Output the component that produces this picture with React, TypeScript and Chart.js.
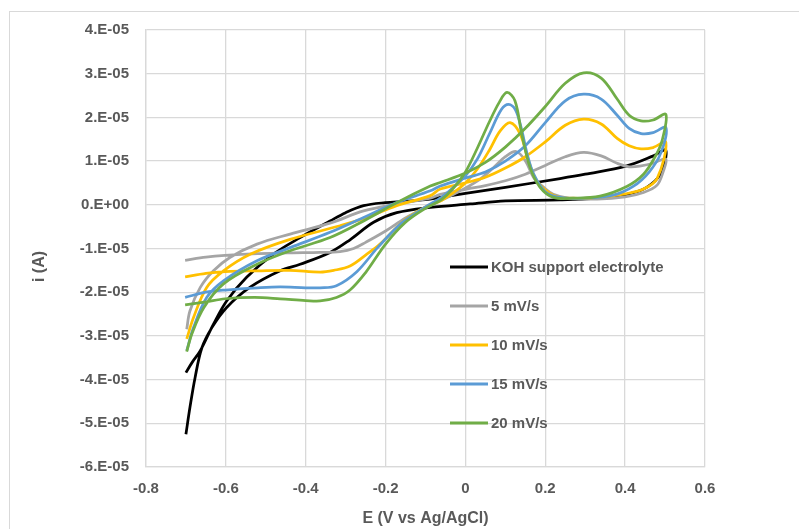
import React, { useEffect, useRef } from "react";
import { Chart, registerables } from "chart.js";

Chart.register(...registerables);

// ---- data (potential E in V vs Ag/AgCl, current i in A) ----
const kohE = [-0.700, -0.690, -0.677, -0.660, -0.635, -0.598, -0.540, -0.464, -0.414, -0.339, -0.289, -0.230, -0.172, -0.088, 0.012, 0.100, 0.237, 0.330, 0.404, 0.454, 0.488, 0.502,
  0.471, 0.404, 0.300, 0.237, 0.100, 0.000, -0.063, -0.100, -0.150, -0.201, -0.255, -0.300, -0.339, -0.414, -0.481, -0.548, -0.598, -0.631, -0.664, -0.684, -0.700];
const kohI = [-5.25e-5, -4.64e-5, -3.95e-5, -3.27e-5, -2.81e-5, -2.35e-5, -1.89e-5, -1.51e-5, -1.36e-5, -1.09e-5, -0.80e-5, -0.40e-5, -0.18e-5, -0.06e-5, 0.02e-5, 0.09e-5, 0.11e-5, 0.15e-5, 0.24e-5, 0.40e-5, 0.70e-5, 1.25e-5,
  1.12e-5, 0.89e-5, 0.70e-5, 0.60e-5, 0.40e-5, 0.26e-5, 0.17e-5, 0.12e-5, 0.08e-5, 0.05e-5, -0.02e-5, -0.18e-5, -0.37e-5, -0.75e-5, -1.13e-5, -1.66e-5, -2.20e-5, -2.73e-5, -3.34e-5, -3.60e-5, -3.84e-5];

const s5E = [-0.702, -0.650, -0.602, -0.520, -0.440, -0.364, -0.314, -0.280, -0.250, -0.200, -0.150, -0.100, -0.063, -0.013, 0.037, 0.070, 0.100, 0.127, 0.150, 0.171, 0.196, 0.220, 0.260, 0.330, 0.400, 0.446, 0.480, 0.495, 0.502,
  0.470, 0.440, 0.410, 0.380, 0.340, 0.296, 0.250, 0.200, 0.150, 0.100, 0.050, 0.003, -0.063, -0.088, -0.172, -0.255, -0.339, -0.439, -0.522, -0.589, -0.631, -0.664, -0.690, -0.698];
const s5I = [-1.27e-5, -1.20e-5, -1.16e-5, -1.12e-5, -1.10e-5, -1.09e-5, -1.07e-5, -1.00e-5, -0.86e-5, -0.60e-5, -0.30e-5, -0.06e-5, 0.09e-5, 0.32e-5, 0.59e-5, 0.85e-5, 1.10e-5, 1.22e-5, 1.01e-5, 0.62e-5, 0.40e-5, 0.24e-5, 0.15e-5, 0.13e-5, 0.18e-5, 0.28e-5, 0.45e-5, 0.75e-5, 1.05e-5,
  0.95e-5, 0.89e-5, 0.87e-5, 0.95e-5, 1.12e-5, 1.20e-5, 1.10e-5, 0.90e-5, 0.70e-5, 0.55e-5, 0.44e-5, 0.36e-5, 0.24e-5, 0.15e-5, 0.02e-5, -0.14e-5, -0.42e-5, -0.67e-5, -0.90e-5, -1.20e-5, -1.51e-5, -1.89e-5, -2.43e-5, -2.85e-5];

const s10E = [-0.702, -0.650, -0.602, -0.520, -0.440, -0.364, -0.330, -0.289, -0.250, -0.214, -0.155, -0.100, -0.060, -0.030, 0.000, 0.030, 0.060, 0.087, 0.112, 0.137, 0.158, 0.179, 0.220, 0.270, 0.330, 0.400, 0.446, 0.480, 0.502,
  0.470, 0.440, 0.410, 0.380, 0.340, 0.296, 0.250, 0.200, 0.150, 0.100, 0.050, 0.003, -0.063, -0.088, -0.172, -0.250, -0.314, -0.439, -0.539, -0.606, -0.648, -0.681, -0.698];
const s10I = [-1.65e-5, -1.57e-5, -1.53e-5, -1.51e-5, -1.50e-5, -1.54e-5, -1.50e-5, -1.40e-5, -1.15e-5, -0.90e-5, -0.37e-5, -0.05e-5, 0.10e-5, 0.28e-5, 0.50e-5, 0.82e-5, 1.25e-5, 1.69e-5, 1.88e-5, 1.62e-5, 1.01e-5, 0.55e-5, 0.22e-5, 0.15e-5, 0.17e-5, 0.25e-5, 0.36e-5, 0.60e-5, 1.43e-5,
  1.31e-5, 1.28e-5, 1.35e-5, 1.52e-5, 1.85e-5, 1.96e-5, 1.82e-5, 1.44e-5, 1.10e-5, 0.84e-5, 0.63e-5, 0.51e-5, 0.36e-5, 0.21e-5, -0.02e-5, -0.30e-5, -0.48e-5, -0.79e-5, -1.13e-5, -1.51e-5, -1.89e-5, -2.58e-5, -3.07e-5];

const s15E = [-0.702, -0.650, -0.602, -0.520, -0.464, -0.400, -0.364, -0.323, -0.272, -0.220, -0.160, -0.100, -0.060, -0.030, 0.000, 0.030, 0.060, 0.090, 0.108, 0.125, 0.140, 0.155, 0.171, 0.200, 0.237, 0.300, 0.370, 0.420, 0.460, 0.490, 0.502,
  0.470, 0.440, 0.410, 0.380, 0.340, 0.296, 0.250, 0.200, 0.150, 0.100, 0.050, 0.003, -0.063, -0.088, -0.172, -0.255, -0.339, -0.439, -0.522, -0.606, -0.648, -0.681, -0.698];
const s15I = [-2.12e-5, -2.00e-5, -1.95e-5, -1.90e-5, -1.88e-5, -1.90e-5, -1.90e-5, -1.85e-5, -1.53e-5, -0.98e-5, -0.42e-5, -0.05e-5, 0.17e-5, 0.40e-5, 0.66e-5, 1.05e-5, 1.62e-5, 2.18e-5, 2.30e-5, 2.18e-5, 1.75e-5, 1.15e-5, 0.70e-5, 0.30e-5, 0.17e-5, 0.15e-5, 0.22e-5, 0.42e-5, 0.75e-5, 1.20e-5, 1.77e-5,
  1.65e-5, 1.63e-5, 1.75e-5, 2.05e-5, 2.42e-5, 2.53e-5, 2.38e-5, 1.88e-5, 1.35e-5, 1.00e-5, 0.75e-5, 0.62e-5, 0.43e-5, 0.32e-5, 0.05e-5, -0.29e-5, -0.63e-5, -0.98e-5, -1.28e-5, -1.74e-5, -2.12e-5, -2.81e-5, -3.34e-5];

const s20E = [-0.702, -0.650, -0.602, -0.528, -0.464, -0.400, -0.364, -0.323, -0.289, -0.250, -0.200, -0.150, -0.100, -0.060, -0.030, 0.000, 0.030, 0.060, 0.085, 0.104, 0.124, 0.141, 0.162, 0.187, 0.220, 0.270, 0.337, 0.404, 0.446, 0.475, 0.492, 0.502,
  0.470, 0.440, 0.410, 0.380, 0.340, 0.296, 0.250, 0.200, 0.150, 0.100, 0.050, 0.003, -0.063, -0.088, -0.172, -0.255, -0.339, -0.439, -0.522, -0.606, -0.655, -0.685, -0.698];
const s20I = [-2.29e-5, -2.22e-5, -2.15e-5, -2.12e-5, -2.15e-5, -2.19e-5, -2.20e-5, -2.12e-5, -1.95e-5, -1.55e-5, -0.90e-5, -0.40e-5, -0.08e-5, 0.12e-5, 0.38e-5, 0.75e-5, 1.30e-5, 1.90e-5, 2.35e-5, 2.57e-5, 2.38e-5, 1.62e-5, 0.85e-5, 0.40e-5, 0.17e-5, 0.15e-5, 0.20e-5, 0.42e-5, 0.70e-5, 1.10e-5, 1.45e-5, 2.07e-5,
  1.94e-5, 1.92e-5, 2.05e-5, 2.42e-5, 2.90e-5, 3.02e-5, 2.78e-5, 2.25e-5, 1.75e-5, 1.32e-5, 0.97e-5, 0.74e-5, 0.51e-5, 0.43e-5, 0.05e-5, -0.37e-5, -0.75e-5, -1.05e-5, -1.36e-5, -1.81e-5, -2.35e-5, -2.95e-5, -3.36e-5];

const seriesNames = ["KOH support electrolyte", "5 mV/s", "10 mV/s", "15 mV/s", "20 mV/s"];
const seriesColors = ["#000000", "#a5a5a5", "#ffc000", "#5b9bd5", "#70ad47"];
const seriesE = [kohE, s5E, s10E, s15E, s20E];
const seriesI = [kohI, s5I, s10I, s15I, s20I];

const xTickLabels = ["-0.8", "-0.6", "-0.4", "-0.2", "0", "0.2", "0.4", "0.6"];
const yTickLabels = ["-6.E-05", "-5.E-05", "-4.E-05", "-3.E-05", "-2.E-05", "-1.E-05", "0.E+00", "1.E-05", "2.E-05", "3.E-05", "4.E-05"];
const xTitle = "E (V vs Ag/AgCl)";
const yTitle = "i (A)";

const FONT = "'Liberation Sans', Arial, sans-serif";
const TEXT = "#595959";
const GRID = "#d9d9d9";

const overlayPlugin = {
  id: "overlay",
  afterDraw(chart: any) {
    const ctx = chart.ctx as CanvasRenderingContext2D;
    const area = chart.chartArea;
    ctx.save();
    // legend inside plot area
    ctx.font = `bold 15px ${FONT}`;
    ctx.textAlign = "left";
    ctx.textBaseline = "middle";
    seriesNames.forEach((name, i) => {
      const y = 267 + i * 39;
      ctx.strokeStyle = seriesColors[i];
      ctx.lineWidth = 3;
      ctx.beginPath();
      ctx.moveTo(450, y);
      ctx.lineTo(488, y);
      ctx.stroke();
      ctx.fillStyle = TEXT;
      ctx.fillText(name, 491, y + 1);
    });
    // axis titles
    ctx.font = `bold 16px ${FONT}`;
    ctx.fillStyle = TEXT;
    ctx.textAlign = "center";
    ctx.textBaseline = "alphabetic";
    ctx.fillText(xTitle, (area.left + area.right) / 2, 522.5);
    ctx.translate(43.5, 266.5);
    ctx.rotate(-Math.PI / 2);
    ctx.fillText(yTitle, 0, 0);
    ctx.restore();
  },
};

export default function App() {
  const ref = useRef<HTMLCanvasElement>(null);

  useEffect(() => {
    const datasets = seriesNames.map((name, k) => ({
      label: name,
      data: seriesE[k].map((e, i) => ({ x: e, y: seriesI[k][i] })),
      borderColor: seriesColors[k],
      backgroundColor: seriesColors[k],
      borderWidth: 2.75,
      showLine: true,
      tension: 0.35,
      pointRadius: 0,
      pointHoverRadius: 0,
      fill: false,
      order: seriesNames.length - 1 - k,
    }));

    const chart = new Chart(ref.current as HTMLCanvasElement, {
      type: "scatter",
      data: { datasets },
      options: {
        responsive: false,
        animation: false,
        devicePixelRatio: 1,
        layout: { padding: { top: 30, right: 94, left: 0, bottom: 0 } },
        plugins: {
          legend: { display: false },
          tooltip: { enabled: false },
        },
        scales: {
          x: {
            type: "linear",
            min: -0.8,
            max: 0.6,
            ticks: {
              stepSize: 0.2,
              padding: 13,
              color: TEXT,
              font: { family: FONT, size: 15, weight: "bold" },
              callback: (_v: any, index: number) => xTickLabels[index],
            },
            grid: { color: GRID, lineWidth: 1.3, drawTicks: false },
            border: { color: GRID, width: 1.3 },
            afterFit: (s: any) => {
              s.height = 62;
            },
          },
          y: {
            type: "linear",
            min: -6e-5,
            max: 4e-5,
            ticks: {
              stepSize: 1e-5,
              padding: 17,
              color: TEXT,
              font: { family: FONT, size: 15, weight: "bold" },
              callback: (_v: any, index: number) => yTickLabels[index],
            },
            grid: { color: GRID, lineWidth: 1.3, drawTicks: false },
            border: { color: GRID, width: 1.3 },
            afterFit: (s: any) => {
              s.width = 146;
            },
          },
        },
      } as any,
      plugins: [overlayPlugin],
    });
    return () => chart.destroy();
  }, []);

  return (
    <div
      style={{
        position: "fixed",
        left: 0,
        top: 0,
        width: 799,
        height: 529,
        overflow: "hidden",
        background: "#ffffff",
      }}
    >
      <div
        style={{
          position: "absolute",
          left: 9,
          top: 11,
          width: 900,
          height: 700,
          border: `1px solid ${GRID}`,
        }}
      />
      <canvas
        ref={ref}
        width={799}
        height={529}
        style={{ position: "absolute", left: 0, top: 0, width: 799, height: 529 }}
      />
    </div>
  );
}
